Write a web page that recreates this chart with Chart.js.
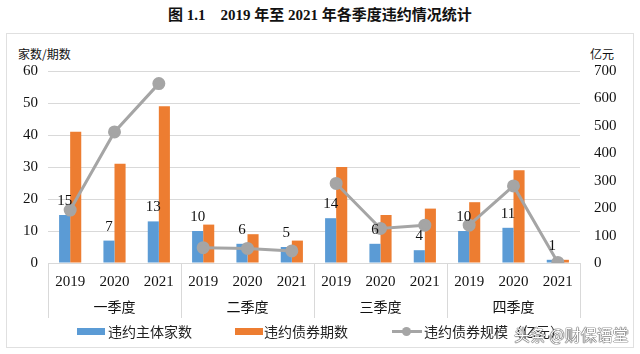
<!DOCTYPE html>
<html>
<head>
<meta charset="utf-8">
<script src="https://cdn.jsdelivr.net/npm/chart.js@4"></script>
<style>
    body { margin: 0; background: #fff; }
    #wrap { position: relative; width: 640px; height: 354px; overflow: hidden; }
    #title { position: absolute; left: 0; top: 3px; width: 640px; text-align: center; white-space: pre;
             font: bold 15px "Liberation Serif", "Noto Sans CJK SC"; color: #111; }
    #frame { position: absolute; left: 6px; top: 33px; width: 626px; height: 313px; border: 1px solid #e0e0e0; }
    .unit { position: absolute; top: 45px; font: 12px "Noto Sans CJK SC"; color: #111; }
    #legend { position: absolute; left: 0; top: 321px; width: 640px; height: 20px;
              font: 14px "Noto Sans CJK SC"; color: #222; }
    .sw { position: absolute; top: 7px; width: 28px; height: 7px; }
    .lt { position: absolute; top: 0; white-space: nowrap; }
    #wm { position: absolute; left: 514px; top: 322px; font: 16px "Noto Sans CJK SC"; color: #fff;
          text-shadow: 0 0 1px #333, 0 0 1px #333, 0 0 1px #333; white-space: nowrap; }
    canvas { position: absolute; left: 0; top: 0; }
</style>
</head>
<body>
<div id="wrap">
    <div id="title">图 1.1    2019 年至 2021 年各季度违约情况统计</div>
    <div id="frame"></div>
    <div class="unit" style="left:18px">家数/期数</div>
    <div class="unit" style="left:590px">亿元</div>
    <canvas id="chart" width="640" height="354"></canvas>
    <div id="legend">
        <div class="sw" style="left:77px;background:#5B9BD5"></div>
        <div class="lt" style="left:108px">违约主体家数</div>
        <div class="sw" style="left:235px;background:#ED7D31"></div>
        <div class="lt" style="left:264px">违约债券期数</div>
        <div style="position:absolute;left:392px;top:9px;width:30px;height:3px;background:#A5A5A5"></div>
        <div style="position:absolute;left:402px;top:6px;width:9px;height:9px;border-radius:50%;background:#A5A5A5"></div>
        <div class="lt" style="left:424px">违约债券规模（亿元）</div>
    </div>
    <div id="wm">头条 @财保语堂</div>
</div>
<script>
// Categories
const years = ["2019", "2020", "2021", "2019", "2020", "2021", "2019", "2020", "2021", "2019", "2020", "2021"];
const quarters = ["一季度", "二季度", "三季度", "四季度"];

// Series values
const issuers = [15, 7, 13, 10, 6, 5, 14, 6, 4, 10, 11, 1];        // 违约主体家数
const bonds = [41, 31, 49, 12, 9, 7, 30, 15, 17, 19, 29, 1];        // 违约债券期数
const amount = [193, 478, 654, 56, 53, 44, 290, 126, 138, 138, 281, 2]; // 违约债券规模（亿元）

// Axis ticks
const leftMax = 60, leftStep = 10;
const rightMax = 700, rightStep = 100;

const serif = "'Liberation Serif', 'Times New Roman', serif";

// value labels above the blue bars
const valueLabels = {
    id: 'valueLabels',
    afterDatasetsDraw(chart) {
        const ctx = chart.ctx;
        const meta = chart.getDatasetMeta(0);
        ctx.save();
        ctx.font = "15px " + serif;
        ctx.fillStyle = "#111";
        ctx.textAlign = "center";
        ctx.textBaseline = "middle";
        meta.data.forEach((bar, i) => {
            ctx.fillText(issuers[i], bar.x, bar.y - 14);
        });
        ctx.restore();
    }
};

// quarter labels and separator lines under the x axis
const quarterAxis = {
    id: 'quarterAxis',
    afterDraw(chart) {
        const ctx = chart.ctx;
        const x = chart.scales.x;
        const area = chart.chartArea;
        const bottom = x.bottom;
        ctx.save();
        ctx.strokeStyle = "#d9d9d9";
        ctx.lineWidth = 1;
        let bounds = [area.left];
        for (let q = 1; q < quarters.length; q++) {
            bounds.push((x.getPixelForValue(q * 3 - 1) + x.getPixelForValue(q * 3)) / 2);
        }
        bounds.push(area.right);
        bounds.forEach(b => {
            const px = Math.round(b) + 0.5;
            ctx.beginPath();
            ctx.moveTo(px, area.bottom);
            ctx.lineTo(px, bottom);
            ctx.stroke();
        });
        ctx.font = "14px 'Liberation Serif', 'Noto Sans CJK SC'";
        ctx.fillStyle = "#111";
        ctx.textAlign = "center";
        ctx.textBaseline = "middle";
        quarters.forEach((q, i) => {
            ctx.fillText(q, x.getPixelForValue(i * 3 + 1), 308);
        });
        ctx.restore();
    }
};

new Chart(document.getElementById("chart"), {
    type: 'bar',
    data: {
        labels: years,
        datasets: [{
            label: "违约主体家数",
            data: issuers,
            backgroundColor: "#5B9BD5",
            yAxisID: 'y',
            order: 1,
            categoryPercentage: 0.5,
            barPercentage: 1
        }, {
            label: "违约债券期数",
            data: bonds,
            backgroundColor: "#ED7D31",
            yAxisID: 'y',
            order: 1,
            categoryPercentage: 0.5,
            barPercentage: 1
        }, {
            type: 'line',
            label: "违约债券规模（亿元）",
            data: amount,
            yAxisID: 'y1',
            order: 0,
            borderColor: "#A5A5A5",
            backgroundColor: "#A5A5A5",
            borderWidth: 3,
            pointRadius: 5,
            pointBackgroundColor: "#A5A5A5",
            pointBorderColor: "#A5A5A5",
            tension: 0,
            segment: {
                borderColor: c => (c.p0DataIndex % 3 === 2 ? 'transparent' : "#A5A5A5")
            }
        }]
    },
    options: {
        responsive: false,
        animation: false,
        layout: { padding: { top: 71, bottom: 36, left: 0, right: 0 } },
        plugins: {
            legend: { display: false },
            tooltip: { enabled: false }
        },
        scales: {
            x: {
                grid: { display: false, drawTicks: false },
                border: { display: false },
                ticks: { font: { family: serif, size: 15 }, color: "#111", padding: 10, maxRotation: 0 },
                afterFit: s => { s.height = 55; }
            },
            y: {
                position: 'left',
                min: 0,
                max: leftMax,
                ticks: { stepSize: leftStep, font: { family: serif, size: 15 }, color: "#111", padding: 10 },
                grid: { color: "#d9d9d9", drawTicks: false },
                border: { display: false },
                afterFit: s => { s.width = 48; }
            },
            y1: {
                position: 'right',
                min: 0,
                max: rightMax,
                ticks: { stepSize: rightStep, font: { family: serif, size: 15 }, color: "#111", padding: 14 },
                grid: { drawOnChartArea: false, drawTicks: false },
                border: { display: false },
                afterFit: s => { s.width = 60; }
            }
        }
    },
    plugins: [valueLabels, quarterAxis]
});
</script>
</body>
</html>
